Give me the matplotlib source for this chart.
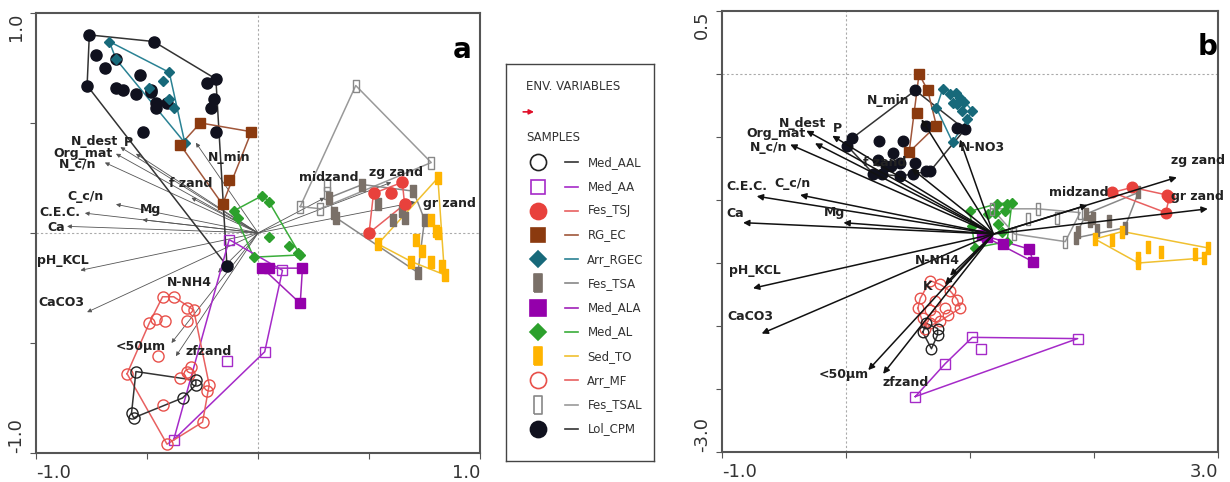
import matplotlib

matplotlib.use('Agg')
import matplotlib.pyplot as plt
import numpy as np

plt.rcParams['font.family'] = ['DejaVu Sans']

# ---- panel a samples (ordination scores) ----
lol_cpm_a_x = [-0.76, -0.47, -0.19, -0.73, -0.64, -0.69, -0.77, -0.53, -0.64, -0.61, -0.55,
               -0.48, -0.48, -0.46, -0.46, -0.41, -0.23, -0.20, -0.21, -0.19, -0.52, -0.14]
lol_cpm_a_y = [0.90, 0.87, 0.70, 0.81, 0.79, 0.75, 0.67, 0.72, 0.66, 0.65, 0.63,
               0.64, 0.65, 0.59, 0.57, 0.59, 0.68, 0.61, 0.57, 0.46, 0.46, -0.15]
arr_rgec_a_x = [-0.67, -0.40, -0.43, -0.49, -0.64, -0.40, -0.38, -0.33]
arr_rgec_a_y = [0.87, 0.73, 0.69, 0.66, 0.79, 0.61, 0.57, 0.41]
rg_ec_a_x = [-0.26, -0.35, -0.03, -0.13, -0.16]
rg_ec_a_y = [0.50, 0.40, 0.46, 0.24, 0.13]
med_al_a_x = [0.02, 0.05, -0.11, -0.09, 0.05, 0.14, 0.18, 0.19, -0.02]
med_al_a_y = [0.17, 0.14, 0.10, 0.07, -0.02, -0.06, -0.09, -0.10, -0.11]
med_ala_a_x = [0.02, 0.05, 0.20, 0.19]
med_ala_a_y = [-0.16, -0.16, -0.16, -0.32]
med_aa_a_x = [-0.13, 0.11, 0.03, -0.14, -0.38]
med_aa_a_y = [-0.03, -0.17, -0.54, -0.58, -0.94]
arr_mf_a_x = [-0.43, -0.38, -0.32, -0.29, -0.46, -0.49, -0.42, -0.32, -0.45, -0.59,
              -0.32, -0.31, -0.35, -0.22, -0.23, -0.30, -0.43, -0.25, -0.41]
arr_mf_a_y = [-0.29, -0.29, -0.34, -0.35, -0.39, -0.41, -0.40, -0.40, -0.56, -0.64,
              -0.63, -0.64, -0.66, -0.69, -0.72, -0.61, -0.78, -0.86, -0.96]
med_aal_a_x = [-0.55, -0.28, -0.28, -0.34, -0.57, -0.56]
med_aal_a_y = [-0.63, -0.67, -0.69, -0.75, -0.82, -0.84]
fes_tsal_a_x = [0.44, 0.78, 0.31, 0.31, 0.19, 0.28]
fes_tsal_a_y = [0.67, 0.32, 0.22, 0.18, 0.12, 0.11]
fes_tsa_a_x = [0.47, 0.32, 0.34, 0.35, 0.54, 0.61, 0.66, 0.70, 0.65, 0.75, 0.72]
fes_tsa_a_y = [0.22, 0.16, 0.09, 0.07, 0.13, 0.06, 0.07, 0.19, 0.10, 0.06, -0.18]
fes_tsj_a_x = [0.65, 0.60, 0.52, 0.66, 0.50]
fes_tsj_a_y = [0.23, 0.18, 0.18, 0.13, 0.00]
sed_to_a_x = [0.81, 0.78, 0.80, 0.81, 0.54, 0.71, 0.74, 0.69, 0.78, 0.83, 0.84]
sed_to_a_y = [0.25, 0.06, 0.01, 0.00, -0.05, -0.03, -0.08, -0.13, -0.13, -0.15, -0.19]

# ---- panel b samples ----
lol_cpm_b_x = [0.56, 0.05, 0.01, 0.27, 0.46, 0.38, 0.22, 0.29, 0.36, 0.44, 0.56, 0.44, 0.54,
               0.65, 0.68, 0.65, 0.90, 0.96, 0.32, 0.26]
lol_cpm_b_y = [-0.13, -0.51, -0.57, -0.53, -0.53, -0.63, -0.79, -0.79, -0.73, -0.71, -0.71,
               -0.81, -0.79, -0.77, -0.77, -0.41, -0.43, -0.44, -0.73, -0.68]
rg_ec_b_x = [0.59, 0.66, 0.57, 0.73, 0.51]
rg_ec_b_y = [0.00, -0.13, -0.31, -0.41, -0.62]
arr_rgec_b_x = [0.78, 0.84, 0.89, 0.92, 0.86, 0.90, 0.95, 0.73, 1.02, 0.94, 0.98, 0.86]
arr_rgec_b_y = [-0.12, -0.16, -0.15, -0.19, -0.23, -0.24, -0.22, -0.27, -0.29, -0.29, -0.36, -0.54]
med_al_b_x = [1.22, 1.30, 1.34, 1.20, 1.28, 1.00, 1.23, 1.02, 1.04, 1.30, 1.26, 1.15]
med_al_b_y = [-1.03, -1.03, -1.02, -1.10, -1.09, -1.09, -1.19, -1.21, -1.38, -1.33, -1.25, -1.11]
med_ala_b_x = [1.10, 1.14, 1.27, 1.48, 1.51]
med_ala_b_y = [-1.28, -1.29, -1.35, -1.39, -1.49]
fes_tsal_b_x = [1.18, 1.36, 1.47, 1.55, 1.70, 1.77, 1.89]
fes_tsal_b_y = [-1.07, -1.27, -1.15, -1.07, -1.14, -1.33, -1.10]
fes_tsa_b_x = [1.94, 1.97, 1.99, 1.87, 1.86, 2.03, 2.12, 2.25, 2.36]
fes_tsa_b_y = [-1.11, -1.17, -1.14, -1.25, -1.30, -1.24, -1.17, -1.22, -0.94]
fes_tsj_b_x = [2.15, 2.31, 2.59, 2.61, 2.58]
fes_tsj_b_y = [-0.94, -0.90, -0.96, -0.98, -1.10]
sed_to_b_x = [2.01, 2.15, 2.23, 2.44, 2.54, 2.36, 2.36, 2.82, 2.89, 2.92]
sed_to_b_y = [-1.31, -1.32, -1.25, -1.37, -1.41, -1.46, -1.50, -1.43, -1.46, -1.38]
arr_mf_b_x = [0.68, 0.76, 0.84, 0.60, 0.72, 0.90, 0.58, 0.68, 0.80, 0.92, 0.62, 0.72, 0.82,
              0.64, 0.68, 0.76]
arr_mf_b_y = [-1.64, -1.67, -1.72, -1.78, -1.80, -1.79, -1.86, -1.87, -1.86, -1.86, -1.94,
              -1.92, -1.91, -2.02, -1.98, -1.96]
med_aal_b_x = [0.62, 0.74, 0.74, 0.69, 0.65]
med_aal_b_y = [-2.05, -2.02, -2.07, -2.18, -1.98]
med_aa_b_x = [1.02, 1.09, 0.80, 0.56, 1.87]
med_aa_b_y = [-2.09, -2.18, -2.30, -2.56, -2.10]

# ---- environmental variables (arrow tips) ----
env_a_names = ['N_dest', 'P', 'Org_mat', 'N_c/n', 'f zand', 'C_c/n', 'Mg', 'C.E.C.', 'Ca',
               'N_min', 'pH_KCL', 'CaCO3', 'N-NH4', '<50µm', 'zfzand', 'midzand', 'zg zand',
               'gr zand']
env_a_x = [-0.62, -0.55, -0.64, -0.69, -0.30, -0.64, -0.52, -0.78, -0.86, -0.28, -0.80, -0.77,
           -0.18, -0.39, -0.37, 0.30, 0.60, 0.71]
env_a_y = [0.39, 0.36, 0.36, 0.32, 0.16, 0.13, 0.06, 0.09, 0.03, 0.41, -0.17, -0.36, -0.18,
           -0.50, -0.56, 0.16, 0.23, 0.14]

env_b_names = ['N_dest', 'P', 'Org_mat', 'N_c/n', 'C.E.C.', 'C_c/n', 'Ca', 'Mg', 'N_min',
               'N-NO3', 'f zand', 'zg zand', 'midzand', 'gr zand', 'pH_KCL', 'CaCO3', 'N-NH4',
               'K', '<50µm', 'zfzand']
env_b_x = [-0.32, -0.11, -0.25, -0.45, -0.72, -0.37, -0.83, -0.02, 0.61, 0.92, 0.53, 2.67,
           1.95, 2.92, -0.75, -0.68, 0.84, 0.80, 0.18, 0.30]
env_b_y = [-0.45, -0.49, -0.55, -0.56, -0.97, -0.96, -1.18, -1.18, -0.36, -0.52, -0.75, -0.82,
           -1.04, -1.07, -1.70, -2.06, -1.60, -1.67, -2.35, -2.38]

# label placement (layout only)
lab_a = {'N_dest': (-0.735, 0.414), 'P': (-0.586, 0.409), 'Org_mat': (-0.788, 0.359),
         'N_c/n': (-0.811, 0.309), 'f zand': (-0.302, 0.227), 'C_c/n': (-0.775, 0.164),
         'Mg': (-0.486, 0.105), 'C.E.C.': (-0.892, 0.095), 'Ca': (-0.910, 0.027),
         'N_min': (-0.131, 0.345), 'pH_KCL': (-0.878, -0.123), 'CaCO3': (-0.887, -0.318),
         'N-NH4': (-0.311, -0.227), '<50µm': (-0.527, -0.518), 'zfzand': (-0.221, -0.541),
         'midzand': (0.320, 0.250), 'zg zand': (0.622, 0.277), 'gr zand': (0.860, 0.132)}
lab_b = {'N_dest': (-0.347, -0.389), 'P': (-0.065, -0.429), 'Org_mat': (-0.565, -0.476),
         'N_c/n': (-0.621, -0.587), 'C.E.C.': (-0.798, -0.889), 'C_c/n': (-0.435, -0.873),
         'Ca': (-0.895, -1.111), 'Mg': (-0.089, -1.103), 'N_min': (0.339, -0.214),
         'N-NO3': (1.105, -0.587), 'f zand': (0.315, -0.706), 'zg zand': (2.839, -0.690),
         'midzand': (1.879, -0.937), 'gr zand': (2.839, -0.976), 'pH_KCL': (-0.734, -1.563),
         'CaCO3': (-0.774, -1.921), 'N-NH4': (0.734, -1.484), 'K': (0.661, -1.690),
         '<50µm': (-0.016, -2.381), 'zfzand': (0.484, -2.452)}
origin_b = (1.19, -1.27)

RECT = [(-0.42, -1), (0.42, -1), (0.42, 1), (-0.42, 1), (-0.42, -1)]

# name: marker, face, edge, line colour, size
styles = {
    'Med_AAL': ('o', 'none', '#222222', '#333333', 8),
    'Med_AA': ('s', 'none', '#a52ac8', '#a52ac8', 7),
    'Fes_TSJ': ('o', '#e8413c', '#e8413c', '#e86060', 8),
    'RG_EC': ('s', '#8b3a0f', '#8b3a0f', '#a0563a', 7),
    'Arr_RGEC': ('D', '#17697a', '#17697a', '#2a8294', 5.5),
    'Fes_TSA': (RECT, '#7a7068', '#7a7068', '#888888', 9),
    'Med_ALA': ('s', '#9400ab', '#9400ab', '#a020b8', 7.5),
    'Med_AL': ('D', '#2ca02c', '#2ca02c', '#3aad3a', 5.5),
    'Sed_TO': (RECT, '#ffb400', '#ffb400', '#f0c030', 9),
    'Arr_MF': ('o', 'none', '#e8504a', '#e86060', 8),
    'Fes_TSAL': (RECT, 'none', '#888888', '#999999', 9),
    'Lol_CPM': ('o', '#10111e', '#10111e', '#333333', 8),
}
legend_order = ['Med_AAL', 'Med_AA', 'Fes_TSJ', 'RG_EC', 'Arr_RGEC', 'Fes_TSA', 'Med_ALA',
                'Med_AL', 'Sed_TO', 'Arr_MF', 'Fes_TSAL', 'Lol_CPM']

groups_a = {
    'Lol_CPM': (lol_cpm_a_x, lol_cpm_a_y), 'Arr_RGEC': (arr_rgec_a_x, arr_rgec_a_y),
    'RG_EC': (rg_ec_a_x, rg_ec_a_y), 'Med_AL': (med_al_a_x, med_al_a_y),
    'Med_ALA': (med_ala_a_x, med_ala_a_y), 'Med_AA': (med_aa_a_x, med_aa_a_y),
    'Arr_MF': (arr_mf_a_x, arr_mf_a_y), 'Med_AAL': (med_aal_a_x, med_aal_a_y),
    'Fes_TSAL': (fes_tsal_a_x, fes_tsal_a_y), 'Fes_TSA': (fes_tsa_a_x, fes_tsa_a_y),
    'Fes_TSJ': (fes_tsj_a_x, fes_tsj_a_y), 'Sed_TO': (sed_to_a_x, sed_to_a_y),
}
groups_b = {
    'Lol_CPM': (lol_cpm_b_x, lol_cpm_b_y), 'Arr_RGEC': (arr_rgec_b_x, arr_rgec_b_y),
    'RG_EC': (rg_ec_b_x, rg_ec_b_y), 'Med_AL': (med_al_b_x, med_al_b_y),
    'Med_ALA': (med_ala_b_x, med_ala_b_y), 'Med_AA': (med_aa_b_x, med_aa_b_y),
    'Arr_MF': (arr_mf_b_x, arr_mf_b_y), 'Med_AAL': (med_aal_b_x, med_aal_b_y),
    'Fes_TSAL': (fes_tsal_b_x, fes_tsal_b_y), 'Fes_TSA': (fes_tsa_b_x, fes_tsa_b_y),
    'Fes_TSJ': (fes_tsj_b_x, fes_tsj_b_y), 'Sed_TO': (sed_to_b_x, sed_to_b_y),
}


def hull(xs, ys):
    """Convex envelope of a group (monotone chain)."""
    pts = sorted(set(zip(xs, ys)))
    if len(pts) < 3:
        return pts

    def cross(o, a, b):
        return (a[0] - o[0]) * (b[1] - o[1]) - (a[1] - o[1]) * (b[0] - o[0])

    lower, upper = [], []
    for p in pts:
        while len(lower) >= 2 and cross(lower[-2], lower[-1], p) <= 0:
            lower.pop()
        lower.append(p)
    for p in reversed(pts):
        while len(upper) >= 2 and cross(upper[-2], upper[-1], p) <= 0:
            upper.pop()
        upper.append(p)
    h = lower[:-1] + upper[:-1]
    return h + [h[0]]


def draw_groups(ax, groups, scale):
    for name, (xs, ys) in groups.items():
        mk, fc, ec, lc, ms = styles[name]
        h = np.array(hull(xs, ys))
        ax.plot(h[:, 0], h[:, 1], color=lc, lw=1.1, zorder=2)
        ax.plot(xs, ys, ls='none', marker=mk, markersize=ms * scale, markerfacecolor=fc,
                markeredgecolor=ec, markeredgewidth=1.0, zorder=3)


def frame(ax, xlim, ylim, xticks, yticks):
    ax.set_xlim(*xlim)
    ax.set_ylim(*ylim)
    ax.axhline(0, color='#aaaaaa', ls=(0, (2, 2)), lw=0.8, zorder=1)
    ax.axvline(0, color='#aaaaaa', ls=(0, (2, 2)), lw=0.8, zorder=1)
    for s in ax.spines.values():
        s.set_color('#555555')
        s.set_linewidth(1.5)
    ax.set_xticks(xticks)
    ax.set_yticks(yticks)
    ax.set_xticklabels([f'{xticks[0]:.1f}'] + [''] * (len(xticks) - 2) + [f'{xticks[-1]:.1f}'])
    ax.set_yticklabels([f'{yticks[0]:.1f}'] + [''] * (len(yticks) - 2) + [f'{yticks[-1]:.1f}'])
    ax.tick_params(direction='out', length=4, color='#555555', labelsize=13,
                   labelcolor='#333333', pad=4)
    xl = ax.get_xticklabels()
    xl[0].set_ha('left')
    xl[-1].set_ha('right')
    yl = ax.get_yticklabels()
    for t in yl:
        t.set_rotation(90)
    yl[0].set_va('bottom')
    yl[-1].set_va('top')


fig = plt.figure(figsize=(12.3, 4.82), dpi=100)

# ---------------- panel a ----------------
ax_a = fig.add_axes([0.0293, 0.0602, 0.361, 0.913])
frame(ax_a, (-1, 1), (-1, 1), [-1, -0.5, 0, 0.5, 1], [-1, -0.5, 0, 0.5, 1])
for name, x, y in zip(env_a_names, env_a_x, env_a_y):
    ax_a.annotate('', xy=(x, y), xytext=(0, 0),
                  arrowprops=dict(arrowstyle='-|>', color='#555555', lw=0.6,
                                  mutation_scale=6, shrinkA=0, shrinkB=0), zorder=1.5)
    lx, ly = lab_a[name]
    ax_a.text(lx, ly, name, fontsize=9, fontweight='bold', color='#222222',
              ha='center', va='center', zorder=5)
draw_groups(ax_a, groups_a, 1.0)
ax_a.text(0.96, 0.915, 'a', transform=ax_a.transAxes, fontsize=20, fontweight='bold',
          ha='center', va='center')

# ---------------- panel b ----------------
ax_b = fig.add_axes([0.587, 0.0622, 0.403, 0.915])
frame(ax_b, (-1, 3), (-3, 0.5), [-1, 0, 1, 2, 3], list(np.arange(-3, 0.51, 0.5)))
draw_groups(ax_b, groups_b, 0.95)
for name, x, y in zip(env_b_names, env_b_x, env_b_y):
    ax_b.annotate('', xy=(x, y), xytext=origin_b,
                  arrowprops=dict(arrowstyle='-|>', color='#111111', lw=1.1,
                                  mutation_scale=9, shrinkA=0, shrinkB=0), zorder=4)
    lx, ly = lab_b[name]
    ax_b.text(lx, ly, name, fontsize=9, fontweight='bold', color='#222222',
              ha='center', va='center', zorder=5)
ax_b.text(0.98, 0.918, 'b', transform=ax_b.transAxes, fontsize=20, fontweight='bold',
          ha='center', va='center')

# ---------------- legend box ----------------
ax_l = fig.add_axes([0.411, 0.0436, 0.121, 0.824])
ax_l.set_xlim(0, 1)
ax_l.set_ylim(0, 1)
ax_l.set_xticks([])
ax_l.set_yticks([])
for s in ax_l.spines.values():
    s.set_color('#444444')
    s.set_linewidth(1.0)
ax_l.text(0.14, 0.942, 'ENV. VARIABLES', fontsize=8.5, color='#333333', va='center')
ax_l.annotate('', xy=(0.21, 0.879), xytext=(0.10, 0.879),
              arrowprops=dict(arrowstyle='-|>', color='#e0102a', lw=1.2, mutation_scale=7))
ax_l.text(0.14, 0.814, 'SAMPLES', fontsize=8.5, color='#333333', va='center')
for i, name in enumerate(legend_order):
    mk, fc, ec, lc, ms = styles[name]
    yy = 0.752 - i * 0.061
    ax_l.plot([0.215], [yy], marker=mk, markersize=ms * 1.45, markerfacecolor=fc,
              markeredgecolor=ec, markeredgewidth=1.2, ls='none')
    ax_l.plot([0.40, 0.49], [yy, yy], color=lc, lw=1.2)
    ax_l.text(0.55, yy, name, fontsize=8.5, color='#333333', va='center')

fig.savefig('out.png', dpi=100)
